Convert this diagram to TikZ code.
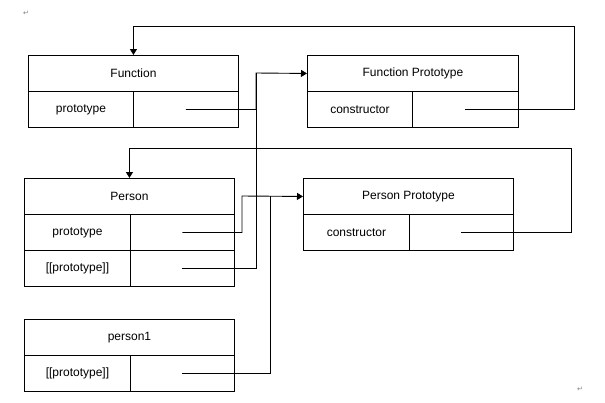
\documentclass[tikz,border=0pt]{standalone}
\usepackage{fontspec}
\setmainfont{Liberation Sans}
\newfontfamily\symfont{DejaVu Sans}
\usetikzlibrary{arrows.meta}
\begin{document}
\begin{tikzpicture}[x=1pt,y=-1pt,
  cell/.style={draw,line width=0.9pt,rectangle,inner sep=0pt,anchor=north west,
    minimum height=36pt,font=\fontsize{12}{14}\selectfont},
  conn/.style={line width=0.9pt},
  arr/.style={conn,-{Triangle[length=6pt,width=7pt]}},
  retmark/.style={text=gray,font=\symfont\fontsize{7}{8}\selectfont,inner sep=0pt}]
\fill[white] (0,0) rectangle (605,402);
\useasboundingbox (0,0) rectangle (605,402);
\node[retmark] (m1) at (26,13) {↵};
\node[retmark] (m2) at (580,389) {↵};
% Function
\node[cell,minimum width=210pt] (fh) at (28,55) {Function};
\node[cell,minimum width=105pt] (fl) at (28,91) {prototype};
\node[cell,minimum width=105pt] (fr) at (133,91) {};
% Function Prototype
\node[cell,minimum width=211pt] (fph) at (307,55) {Function Prototype};
\node[cell,minimum width=105pt] (fpl) at (307,91) {constructor};
\node[cell,minimum width=106pt] (fpr) at (412,91) {};
% Person
\node[cell,minimum width=210pt] (ph) at (24,178) {Person};
\node[cell,minimum width=106pt] (pl1) at (24,214) {prototype};
\node[cell,minimum width=104pt] (pr1) at (130,214) {};
\node[cell,minimum width=106pt] (pl2) at (24,250) {[[prototype]]};
\node[cell,minimum width=104pt] (pr2) at (130,250) {};
% Person Prototype
\node[cell,minimum width=210pt] (pph) at (303,178) {Person Prototype};
\node[cell,minimum width=106pt] (ppl) at (303,214) {constructor};
\node[cell,minimum width=104pt] (ppr) at (409,214) {};
% person1
\node[cell,minimum width=210pt] (p1h) at (24,319) {person1};
\node[cell,minimum width=106pt] (p1l) at (24,355) {[[prototype]]};
\node[cell,minimum width=104pt] (p1r) at (130,355) {};
% bend points
\coordinate (c1) at (574,26);
\coordinate (j1) at (256,73);
\coordinate (c3) at (571.5,148);
\coordinate (j2) at (242,196);
\coordinate (j3) at (270,196);
% connectors
\draw[arr] (fpr.center) -| (c1) -| (fh.north);
\draw[arr] (fr.center) -| (j1) -- (fph.west);
\draw[conn] (pr2.center) -| (j1);
\draw[arr] (ppr.center) -| (c3) -| (ph.north);
\draw[arr] (pr1.center) -| (j2) -- (pph.west);
\draw[conn] (p1r.center) -| (j3);
\end{tikzpicture}
\end{document}
